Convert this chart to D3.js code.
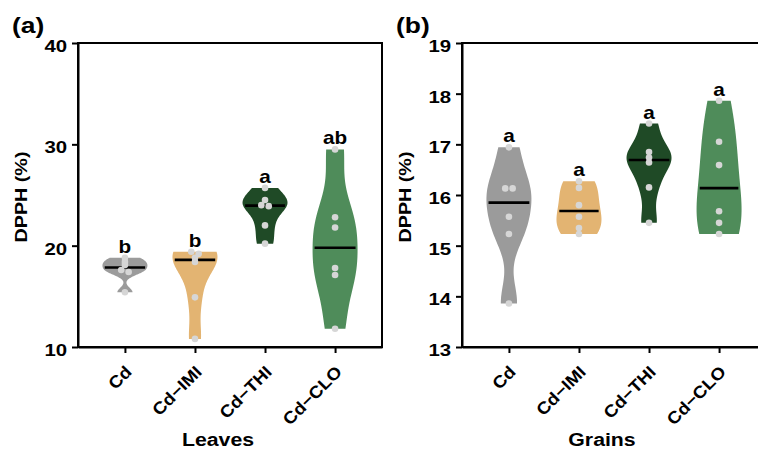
<!DOCTYPE html>
<html>
<head>
<meta charset="utf-8">
<script src="https://cdn.jsdelivr.net/npm/d3@7"></script>
<style>
  body { margin: 0; background: #fff; }
  text { font-family: "Liberation Sans", Arial, sans-serif; font-weight: bold; fill: #000; }
</style>
</head>
<body>
<svg id="chart" width="758" height="452"></svg>
<script>
const categories = ["Cd", "Cd\u2212IMI", "Cd\u2212THI", "Cd\u2212CLO"];
const fillColors = ["#9b9b9b", "#e3b472", "#1f4a26", "#4f8c5a"];

// leaves, DPPH (%)
const leavesCd  = [18.8, 18.4, 18.1, 17.6, 17.4, 15.4];
const leavesIMI = [19.4, 19.2, 18.8, 18.4, 14.9, 10.8];
const leavesTHI = [25.7, 24.5, 24.0, 23.9, 22.0, 20.2];
const leavesCLO = [29.5, 22.8, 21.8, 17.8, 17.1, 11.8];
// grains, DPPH (%)
const grainsCd  = [16.94, 16.13, 16.13, 15.57, 15.23, 13.86];
const grainsIMI = [16.27, 16.14, 15.80, 15.57, 15.35, 15.23];
const grainsTHI = [17.41, 16.85, 16.74, 16.64, 16.15, 15.45];
const grainsCLO = [17.86, 17.05, 16.59, 15.68, 15.45, 15.23];

const leavesLetters = ["b", "b", "a", "ab"];
const grainsLetters = ["a", "a", "a", "a"];
const leavesTicks = [10, 20, 30, 40];
const grainsTicks = [13, 14, 15, 16, 17, 18, 19];

const svg = d3.select("#chart");
const plotTop = 43, plotBottom = 347, plotW = 304;
const halfMax = 22.5;

function hText(parent, x, y, str, size, anchor, sx) {
  return parent.append("text")
    .attr("transform", `translate(${x},${y}) scale(${sx},1)`)
    .attr("text-anchor", anchor)
    .attr("font-size", size)
    .text(str);
}

// silverman rule, a bit smoother
function bandwidth(vals) {
  const s = [...vals].sort(d3.ascending);
  const sd = d3.deviation(s);
  const iqr = (d3.quantileSorted(s, 0.75) - d3.quantileSorted(s, 0.25)) / 1.34;
  return 1.1 * 0.9 * Math.min(sd, iqr) * Math.pow(s.length, -0.2);
}

function kde(vals, h, v) {
  return d3.mean(vals, d => Math.exp(-0.5 * ((v - d) / h) ** 2)) / h;
}

function drawPanel(opt) {
  const g = svg.append("g");
  const x = d3.scalePoint().domain(categories)
    .range([opt.left, opt.left + plotW]).padding(0.67);
  const y = d3.scaleLinear().domain(opt.domain).range([plotBottom, plotTop]);

  // violins
  opt.series.forEach((vals, i) => {
    const cx = x(categories[i]);
    const h = bandwidth(vals);
    const lo = d3.min(vals), hi = d3.max(vals);
    const grid = d3.range(0, 81).map(k => lo + (hi - lo) * k / 80);
    const dens = grid.map(v => [v, kde(vals, h, v)]);
    const w = d3.scaleLinear().domain([0, d3.max(dens, d => d[1])]).range([0, halfMax]);

    g.append("path")
      .datum(dens)
      .attr("fill", fillColors[i])
      .attr("d", d3.area()
        .y(d => y(d[0]))
        .x0(d => cx - w(d[1]))
        .x1(d => cx + w(d[1]))
        .curve(d3.curveBasis));

    const med = d3.median(vals);
    const mw = w(kde(vals, h, med)) - 2;
    g.append("line")
      .attr("x1", cx - mw).attr("x2", cx + mw)
      .attr("y1", y(med)).attr("y2", y(med))
      .attr("stroke", "#000").attr("stroke-width", 2.6);

    // points, near-equal values spread sideways
    const sorted = [...vals].sort(d3.descending);
    const pts = [];
    sorted.forEach((v, k) => {
      const near = k > 0 && Math.abs(y(v) - y(sorted[k - 1])) < 3;
      if (near) {
        pts[pts.length - 1].dx = -3.7;
        pts.push({ v, dx: 3.7 });
      } else pts.push({ v, dx: 0 });
    });
    g.selectAll(null).data(pts).join("circle")
      .attr("cx", d => cx + d.dx)
      .attr("cy", d => y(d.v))
      .attr("r", 3.3)
      .attr("fill", "#d6d6d6");

    hText(g, cx, y(hi) - 5, opt.letters[i], 18, "middle", 1.15);
  });

  // frame
  g.append("rect")
    .attr("x", opt.left).attr("y", plotTop)
    .attr("width", plotW).attr("height", plotBottom - plotTop)
    .attr("fill", "none").attr("stroke", "#000").attr("stroke-width", 2);

  const yAxis = g.append("g")
    .attr("transform", `translate(${opt.left},0)`)
    .call(d3.axisLeft(y).tickValues(opt.ticks).tickFormat(d3.format("d"))
      .tickSize(6).tickSizeOuter(0).tickPadding(3));
  yAxis.selectAll("text")
    .attr("font-size", 17)
    .attr("dy", "0.5em")
    .attr("transform", "scale(1.2,1)");

  const xAxis = g.append("g")
    .attr("transform", `translate(0,${plotBottom})`)
    .call(d3.axisBottom(x).tickSize(6).tickSizeOuter(0).tickFormat(""));

  [yAxis, xAxis].forEach(a => {
    a.selectAll("path, line").attr("stroke", "#000").attr("stroke-width", 2);
    a.attr("font-family", null);
  });

  categories.forEach(c => {
    g.append("text")
      .attr("transform", `translate(${x(c) + 8},373) rotate(-45) scale(1.1,1)`)
      .attr("text-anchor", "end")
      .attr("font-size", 17)
      .text(c);
  });

  hText(g, opt.left + plotW / 2 - 12, 446, opt.title, 19, "middle", 1.12);

  g.append("text")
    .attr("transform", `translate(${opt.left - 51},197) rotate(-90) scale(1.16,1)`)
    .attr("text-anchor", "middle")
    .attr("font-size", 17)
    .text("DPPH (%)");

  hText(g, opt.left - 66, 33, opt.tag, 22, "start", 1.2);
}

drawPanel({
  left: 78, domain: [10, 40], ticks: leavesTicks, title: "Leaves", tag: "(a)",
  series: [leavesCd, leavesIMI, leavesTHI, leavesCLO], letters: leavesLetters
});
drawPanel({
  left: 462, domain: [13, 19], ticks: grainsTicks, title: "Grains", tag: "(b)",
  series: [grainsCd, grainsIMI, grainsTHI, grainsCLO], letters: grainsLetters
});
</script>
</body>
</html>
